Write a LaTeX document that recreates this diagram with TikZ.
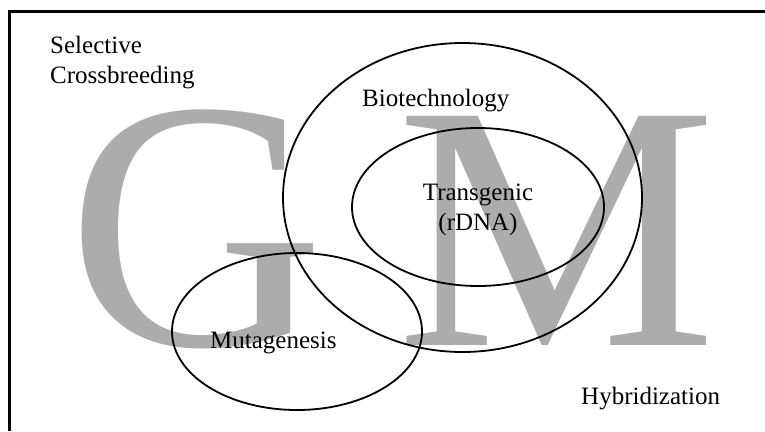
\documentclass[tikz,border=0pt]{standalone}
\usepackage{fontspec}
\usetikzlibrary{shapes.geometric}
\setmainfont{Liberation Serif}
\definecolor{bggray}{RGB}{172,172,172}
\begin{document}
\begin{tikzpicture}[x=1pt,y=-1pt,
  lbl/.style={inner sep=0pt,anchor=base west,font=\fontsize{25}{30}\selectfont},
  big/.style={inner sep=0pt,anchor=base west,text=bggray},
  ring/.style={draw=black,line width=1.8pt,ellipse,inner sep=0pt}]
\useasboundingbox (0,0) rectangle (765,431);
% background letters
\node[big,font=\fontsize{356}{356}\selectfont] (G) at (67,345) {G};
\node[big,font=\fontsize{350}{350}\selectfont] (M) at (396,345) {\scalebox{1.03}[1]{M}};
% frame
\coordinate (fb) at (9.5,431);
\coordinate (fc) at (9.5,11.5);
\coordinate (fr) at (765,11.5);
\draw[line width=2.2pt] (fb) -- (fc) -- (fr);
% ellipses
\node[ring,minimum width=359pt,minimum height=309pt] (bioE) at (462.5,197.5) {};
\node[ring,minimum width=252pt,minimum height=158pt] (transE) at (478,207) {};
\node[ring,minimum width=250pt,minimum height=157pt] (mutaE) at (297,331.5) {};
% labels
\node[lbl] (sel) at (50,53) {Selective};
\node[lbl] (cross) at (50,83) {Crossbreeding};
\node[lbl] (bio) at (362,106) {Biotechnology};
\node[lbl,anchor=base] (trans) at (478,200) {Transgenic};
\node[lbl,anchor=base] (rdna) at (478,230) {(rDNA)};
\node[lbl] (muta) at (210,348) {Mutagenesis};
\node[lbl] (hyb) at (581,404) {Hybridization};
\end{tikzpicture}
\end{document}
